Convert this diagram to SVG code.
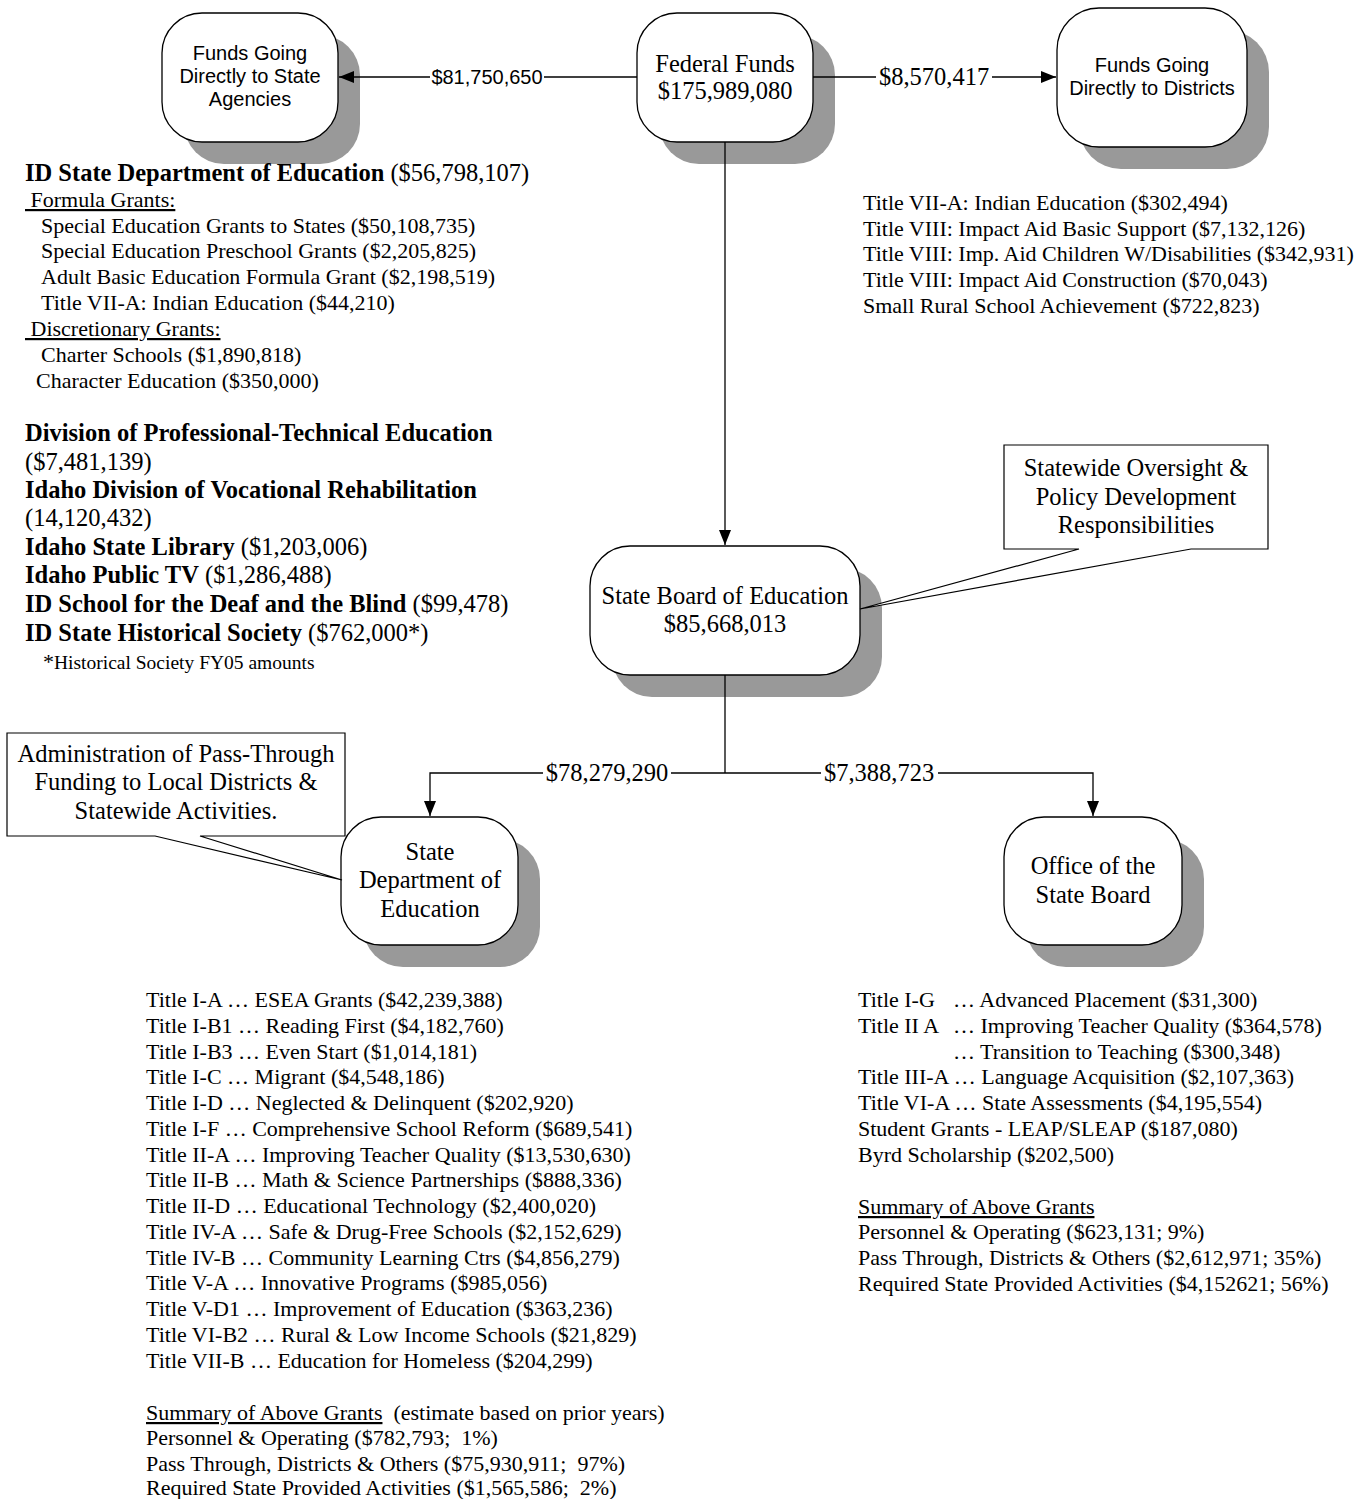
<svg xmlns="http://www.w3.org/2000/svg" width="1369" height="1499" viewBox="0 0 1369 1499">
<style>
.shadow{fill:#999999;stroke:none}
.box{fill:#ffffff;stroke:#000000;stroke-width:1.3}
.call{fill:#ffffff;stroke:#000000;stroke-width:1.2}
.ln{fill:none;stroke:#000000;stroke-width:1.3}
.sans{font-family:"Liberation Sans",Arial,sans-serif;font-size:20px;fill:#000}
.ser{font-family:"Liberation Serif","Times New Roman",serif;font-size:24.5px;fill:#000}
.tx{font-family:"Liberation Serif","Times New Roman",serif;font-size:22px;fill:#000}
.hd{font-family:"Liberation Serif","Times New Roman",serif;font-size:24.5px;fill:#000}
.b{font-weight:bold}
.u{text-decoration:underline}
.c{text-anchor:middle}
</style>
<defs>
<marker id="arr" markerWidth="15" markerHeight="12" refX="15" refY="6" orient="auto" markerUnits="userSpaceOnUse">
<path d="M0,0 L15,6 L0,12 Z" fill="#000"/>
</marker>
</defs>

<g id="node-state-agencies">
<rect class="shadow" x="184" y="35" width="176" height="129" rx="40"/>
<rect class="box" x="162" y="13" width="176" height="129" rx="40"/>
<text class="sans c" x="250" y="60">Funds Going</text>
<text class="sans c" x="250" y="83">Directly to State</text>
<text class="sans c" x="250" y="106">Agencies</text>
</g>

<g id="node-federal-funds">
<rect class="shadow" x="659" y="35" width="176" height="129" rx="40"/>
<rect class="box" x="637" y="13" width="176" height="129" rx="40"/>
<text class="ser c" x="725" y="72">Federal Funds</text>
<text class="ser c" x="725" y="99">$175,989,080</text>
</g>

<g id="node-districts">
<rect class="shadow" x="1079" y="30" width="190" height="139" rx="42"/>
<rect class="box" x="1057" y="8" width="190" height="139" rx="42"/>
<text class="sans c" x="1152" y="72">Funds Going</text>
<text class="sans c" x="1152" y="95">Directly to Districts</text>
</g>

<g id="node-state-board">
<rect class="shadow" x="612" y="568" width="270" height="129" rx="40"/>
<rect class="box" x="590" y="546" width="270" height="129" rx="40"/>
<text class="ser c" x="725" y="604">State Board of Education</text>
<text class="ser c" x="725" y="632">$85,668,013</text>
</g>

<g id="node-state-dept">
<rect class="shadow" x="363" y="839" width="177" height="128" rx="40"/>
<rect class="box" x="341" y="817" width="177" height="128" rx="40"/>
<text class="ser c" x="430" y="860">State</text>
<text class="ser c" x="430" y="888">Department of</text>
<text class="ser c" x="430" y="917">Education</text>
</g>

<g id="node-office">
<rect class="shadow" x="1026" y="839" width="178" height="128" rx="40"/>
<rect class="box" x="1004" y="817" width="178" height="128" rx="40"/>
<text class="ser c" x="1093" y="874">Office of the</text>
<text class="ser c" x="1093" y="903">State Board</text>
</g>

<g id="connectors">
<line class="ln" x1="637" y1="77" x2="339" y2="77" marker-end="url(#arr)"/>
<line class="ln" x1="813" y1="77" x2="1056" y2="77" marker-end="url(#arr)"/>
<line class="ln" x1="725" y1="142" x2="725" y2="545" marker-end="url(#arr)"/>
<polyline class="ln" points="725,675 725,773"/>
<polyline class="ln" points="725,773 430,773 430,816" marker-end="url(#arr)"/>
<polyline class="ln" points="725,773 1093,773 1093,816" marker-end="url(#arr)"/>
<rect x="430" y="64" width="114" height="26" fill="#fff"/>
<text class="sans" x="487" y="84" text-anchor="middle">$81,750,650</text>
<rect x="876" y="62" width="116" height="30" fill="#fff"/>
<text class="ser" x="934" y="85" text-anchor="middle">$8,570,417</text>
<rect x="543" y="758" width="128" height="30" fill="#fff"/>
<text class="ser" x="607" y="781" text-anchor="middle">$78,279,290</text>
<rect x="821" y="758" width="117" height="30" fill="#fff"/>
<text class="ser" x="879" y="781" text-anchor="middle">$7,388,723</text>
</g>

<g id="callout-oversight">
<path class="call" d="M1004,445 H1268 V549 H1191 L860,609 L1079,549 H1004 Z"/>
<text class="ser c" x="1136" y="476">Statewide Oversight &amp;</text>
<text class="ser c" x="1136" y="505">Policy Development</text>
<text class="ser c" x="1136" y="533">Responsibilities</text>
</g>

<g id="callout-admin">
<path class="call" d="M7,733 H345 V836 H200 L342,880 L155,836 H7 Z"/>
<text class="ser c" x="176" y="762">Administration of Pass-Through</text>
<text class="ser c" x="176" y="790">Funding to Local Districts &amp;</text>
<text class="ser c" x="176" y="819">Statewide Activities.</text>
</g>

<g id="list-state-agencies">
<text class="hd" x="25" y="181"><tspan class="b">ID State Department of Education</tspan> ($56,798,107)</text>
<text class="tx" x="25" y="207" xml:space="preserve"><tspan class="u"> Formula Grants:</tspan></text>
<text class="tx" x="41" y="233">Special Education Grants to States ($50,108,735)</text>
<text class="tx" x="41" y="258">Special Education Preschool Grants ($2,205,825)</text>
<text class="tx" x="41" y="284">Adult Basic Education Formula Grant ($2,198,519)</text>
<text class="tx" x="41" y="310">Title VII-A: Indian Education ($44,210)</text>
<text class="tx" x="25" y="336" xml:space="preserve"><tspan class="u"> Discretionary Grants:</tspan></text>
<text class="tx" x="41" y="362">Charter Schools ($1,890,818)</text>
<text class="tx" x="36" y="388">Character Education ($350,000)</text>
<text class="hd b" x="25" y="441">Division of Professional-Technical Education</text>
<text class="hd" x="25" y="470">($7,481,139)</text>
<text class="hd b" x="25" y="498">Idaho Division of Vocational Rehabilitation</text>
<text class="hd" x="25" y="526">(14,120,432)</text>
<text class="hd" x="25" y="555"><tspan class="b">Idaho State Library</tspan> ($1,203,006)</text>
<text class="hd" x="25" y="583"><tspan class="b">Idaho Public TV</tspan> ($1,286,488)</text>
<text class="hd" x="25" y="612"><tspan class="b">ID School for the Deaf and the Blind</tspan> ($99,478)</text>
<text class="hd" x="25" y="641"><tspan class="b">ID State Historical Society</tspan> ($762,000*)</text>
<text class="tx" x="43" y="669"><tspan font-size="22">*</tspan><tspan font-size="19.5">Historical Society FY05 amounts</tspan></text>
</g>

<g id="list-districts">
<text class="tx" x="863" y="210">Title VII-A: Indian Education ($302,494)</text>
<text class="tx" x="863" y="236">Title VIII: Impact Aid Basic Support ($7,132,126)</text>
<text class="tx" x="863" y="261">Title VIII: Imp. Aid Children W/Disabilities ($342,931)</text>
<text class="tx" x="863" y="287">Title VIII: Impact Aid Construction ($70,043)</text>
<text class="tx" x="863" y="313">Small Rural School Achievement ($722,823)</text>
</g>

<g id="list-state-dept">
<text class="tx" x="146" y="1007">Title I-A … ESEA Grants ($42,239,388)</text>
<text class="tx" x="146" y="1033">Title I-B1 … Reading First ($4,182,760)</text>
<text class="tx" x="146" y="1059">Title I-B3 … Even Start ($1,014,181)</text>
<text class="tx" x="146" y="1084">Title I-C … Migrant ($4,548,186)</text>
<text class="tx" x="146" y="1110">Title I-D … Neglected &amp; Delinquent ($202,920)</text>
<text class="tx" x="146" y="1136">Title I-F … Comprehensive School Reform ($689,541)</text>
<text class="tx" x="146" y="1162">Title II-A … Improving Teacher Quality ($13,530,630)</text>
<text class="tx" x="146" y="1187">Title II-B … Math &amp; Science Partnerships ($888,336)</text>
<text class="tx" x="146" y="1213">Title II-D … Educational Technology ($2,400,020)</text>
<text class="tx" x="146" y="1239">Title IV-A … Safe &amp; Drug-Free Schools ($2,152,629)</text>
<text class="tx" x="146" y="1265">Title IV-B … Community Learning Ctrs ($4,856,279)</text>
<text class="tx" x="146" y="1290">Title V-A … Innovative Programs ($985,056)</text>
<text class="tx" x="146" y="1316">Title V-D1 … Improvement of Education ($363,236)</text>
<text class="tx" x="146" y="1342">Title VI-B2 … Rural &amp; Low Income Schools ($21,829)</text>
<text class="tx" x="146" y="1368">Title VII-B … Education for Homeless ($204,299)</text>
<text class="tx" x="146" y="1420" xml:space="preserve"><tspan class="u">Summary of Above Grants</tspan>  (estimate based on prior years)</text>
<text class="tx" x="146" y="1445" xml:space="preserve">Personnel &amp; Operating ($782,793;  1%)</text>
<text class="tx" x="146" y="1471" xml:space="preserve">Pass Through, Districts &amp; Others ($75,930,911;  97%)</text>
<text class="tx" x="146" y="1495" xml:space="preserve">Required State Provided Activities ($1,565,586;  2%)</text>
</g>

<g id="list-office">
<text class="tx" x="858" y="1007">Title I-G</text>
<text class="tx" x="953" y="1007">… Advanced Placement ($31,300)</text>
<text class="tx" x="858" y="1033">Title II A</text>
<text class="tx" x="953" y="1033">… Improving Teacher Quality ($364,578)</text>
<text class="tx" x="953" y="1059">… Transition to Teaching ($300,348)</text>
<text class="tx" x="858" y="1084">Title III-A … Language Acquisition ($2,107,363)</text>
<text class="tx" x="858" y="1110">Title VI-A … State Assessments ($4,195,554)</text>
<text class="tx" x="858" y="1136">Student Grants - LEAP/SLEAP ($187,080)</text>
<text class="tx" x="858" y="1162">Byrd Scholarship ($202,500)</text>
<text class="tx u" x="858" y="1214">Summary of Above Grants</text>
<text class="tx" x="858" y="1239">Personnel &amp; Operating ($623,131; 9%)</text>
<text class="tx" x="858" y="1265">Pass Through, Districts &amp; Others ($2,612,971; 35%)</text>
<text class="tx" x="858" y="1291">Required State Provided Activities ($4,152621; 56%)</text>
</g>
</svg>
